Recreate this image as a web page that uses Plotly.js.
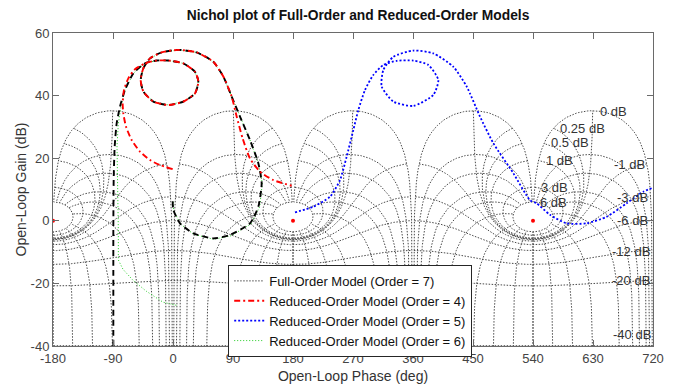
<!DOCTYPE html>
<html>
<head>
<meta charset="utf-8">
<script src="https://cdn.plot.ly/plotly-3.0.1.min.js"></script>
<style>html,body{margin:0;padding:0;background:#fff;}#chart{width:677px;height:387px;}</style>
</head>
<body>
<div id="chart"></div>
<script>
// ---------- Axis ticks ----------
const xTicks = [-180, -90, 0, 90, 180, 270, 360, 450, 540, 630, 720];
const yTicks = [-40, -20, 0, 20, 40, 60];

// ---------- Nichols grid definition (closed-loop values) ----------
const isoPhaseDeg = [1, 5, 10, 20, 30, 50, 90, 120, 150, 180];
const isoGainDb = [6, 3, 1, 0.5, 0.25, 0, -1, -3, -6, -12, -20, -40];
const periodShifts = [-360, 0, 360];
const criticalPhase = [-180, 180, 540];
const criticalGain = [0, 0, 0];

// grid label texts
const posLabels = ['0 dB', '0.25 dB', '0.5 dB', '1 dB', '3 dB', '6 dB'];
const negLabels = ['-1 dB', '-3 dB', '-6 dB', '-12 dB', '-20 dB', '-40 dB'];

// ---------- Series ----------
// Full-order model (black dashed)
const fullPhase = [-89.5, -89.5, -89.5, -89, -87.5, -84.5, -79.5, -72, -59.5, -42, -24.5, -7, 15.5, 33, 38, 33, 15.5, -7, -29.5, -44.5, -48.5, -44.5, -34.5, -17, 8, 35.5, 60.5, 75.5, 88, 100.5, 115.5, 128, 133, 128, 115.5, 85.5, 60.5, 30.5, 10.5, 0.5, -0.5];
const fullGain  = [-40, -12.5, -3, 13, 23.7, 31.1, 36.5, 41.8, 47.1, 50.3, 51.2, 51.2, 50.3, 47.6, 44.5, 40.7, 38.1, 37, 38.1, 41.3, 45, 48.7, 51.9, 53.8, 54.6, 53.8, 50.8, 46.1, 39.7, 33.3, 25.8, 18.4, 12, 4.5, -0.8, -4.5, -5.6, -4, -0.8, 3.5, 6.7];

// Reduced order 4 (red dash-dot)
const r4Phase = [-0.5, -19.5, -34.5, -49.5, -62, -70.5, -74.5, -75.5, -73.5, -67, -57, -42, -24.5, -7, 15.5, 33, 38, 33, 15.5, -7, -29.5, -44.5, -48.5, -44.5, -34.5, -17, 8, 35.5, 60.5, 75.5, 88, 95.5, 104.5, 115.5, 130.5, 150.5, 178];
const r4Gain  = [16.5, 17.8, 19.4, 22.1, 25.8, 30.1, 34.3, 37.5, 41.8, 45.5, 48.4, 50.3, 51.2, 51.2, 50.3, 47.6, 44.5, 40.7, 38.1, 37, 38.1, 41.3, 45, 48.7, 51.9, 53.8, 54.6, 53.8, 50.8, 46.1, 39.7, 33.3, 26.3, 19.9, 15.7, 13, 11.2];

// Reduced order 5 (blue dotted)
const r5Phase = [183, 210.5, 235.5, 250.5, 260.5, 270.5, 278, 288, 300.5, 315.5, 335.5, 360.5, 383, 398, 390.5, 360.5, 330.5, 313, 315.5, 330.5, 360.5, 390.5, 420.5, 440.5, 460.5, 480.5, 510.5, 535.5, 545.5, 565.5, 590.5, 620.5, 650.5, 680.5, 705.5, 720.5];
const r5Gain  = [2.7, 4.5, 7.7, 13, 20.5, 29, 35.4, 41.8, 46.6, 49.8, 51.1, 51.2, 49.8, 45, 40.2, 36.7, 38.1, 42.9, 48.2, 52.4, 54.4, 53.5, 49.2, 42.9, 33.3, 24.8, 15.2, 6.6, 5.6, 1.9, -0.8, -0.8, 1.3, 5.6, 9.3, 10.6];

// Reduced order 6 (green dotted)
const r6Phase = [5, -15, -40, -60, -75, -82, -82, -83, -84, -82, -78, -72, -59.5, -42, -24.5, -7, 15.5, 33, 38, 33, 15.5, -7, -29.5, -44.5, -48.5, -44.5, -34.5, -17, 8, 35.5, 60.5, 75.5, 88, 100.5, 115.5, 128, 134, 130, 117, 87, 61, 31, 11, 1, 0];
const r6Gain  = [-27, -26, -22.5, -19, -15.5, -12.5, -3, 13, 24, 31, 36.5, 41.8, 47.1, 50.3, 51.2, 51.2, 50.3, 47.6, 44.5, 40.7, 38.1, 37, 38.1, 41.3, 45, 48.7, 51.9, 53.8, 54.6, 53.8, 50.8, 46.1, 39.7, 33.3, 25.8, 18.4, 12, 4.5, -1, -4.8, -5.9, -4.3, -1, 3.3, 6.5];

// ---------- Nichols grid computation ----------
function openLoopFromClosedLoop(mag, phDeg) {
  const ph = phDeg * Math.PI / 180;
  const tr = mag * Math.cos(ph), ti = mag * Math.sin(ph);
  const dr = 1 - tr, di = -ti;
  const den = dr * dr + di * di;
  const gr = (tr * dr + ti * di) / den;
  const gi = (ti * dr - tr * di) / den;
  const g = 20 * Math.log10(Math.hypot(gr, gi));
  let p = Math.atan2(gi, gr) * 180 / Math.PI;
  p = ((p % 360) + 360) % 360;
  return [p, g];
}
function range(a, b, s) { const r = []; for (let v = a; v <= b + 1e-9; v += s) r.push(+v.toFixed(6)); return r; }

const magSamplesDb = [].concat(range(-44, -2.5, 0.5), range(-2, 1.99, 0.01), range(2, 6, 0.1));
const phSamples = [].concat(range(1, 9.9, 0.1), range(10, 350, 1), range(350.1, 359, 0.1));

const gridX = [], gridY = [];
periodShifts.forEach(function (sh) {
  // isophase lines
  isoPhaseDeg.forEach(function (p) {
    const line = magSamplesDb.map(function (d) { return openLoopFromClosedLoop(Math.pow(10, d / 20), p); });
    line.forEach(function (pt) { gridX.push(pt[0] + sh); gridY.push(pt[1]); });
    gridX.push(null); gridY.push(null);
    line.forEach(function (pt) { gridX.push(360 - pt[0] + sh); gridY.push(pt[1]); });
    gridX.push(null); gridY.push(null);
  });
  // isogain lines
  isoGainDb.forEach(function (d) {
    const m = Math.pow(10, d / 20);
    phSamples.forEach(function (ph) {
      const pt = openLoopFromClosedLoop(m, ph);
      gridX.push(pt[0] + sh); gridY.push(pt[1]);
    });
    gridX.push(null); gridY.push(null);
  });
});

const labelFont = {family: 'Liberation Sans, Arial, sans-serif', size: 13, color: '#333'};
const posLabelPos = [[637.5, 34.9], [577.5, 29.4], [564, 24.9], [556.5, 19.2], [549, 10.6], [547.5, 6.0]];
const negLabelPos = [[711.5, 18.1], [715.5, 7.6], [715.5, 0], [718.5, -9.8], [718.5, -19.2], [719.5, -36.4]];
const annotations = [];
posLabels.forEach(function (t, i) {
  annotations.push({x: posLabelPos[i][0], y: posLabelPos[i][1], xref: 'x', yref: 'y', text: t, showarrow: false, xanchor: 'left', yanchor: 'middle', font: labelFont});
});
negLabels.forEach(function (t, i) {
  annotations.push({x: negLabelPos[i][0], y: negLabelPos[i][1], xref: 'x', yref: 'y', text: t, showarrow: false, xanchor: 'right', yanchor: 'middle', font: labelFont});
});

const traces = [
  {x: gridX, y: gridY, type: 'scatter', mode: 'lines', name: 'Full-Order Model (Order = 7)', legendrank: 1,
   line: {color: '#4a4a4a', width: 1, dash: '1.5px,1.5px'}, hoverinfo: 'skip', connectgaps: false},
  {x: criticalPhase, y: criticalGain, type: 'scatter', mode: 'markers', showlegend: false,
   marker: {color: '#ff0000', size: 4}},
  {x: r6Phase, y: r6Gain, type: 'scatter', mode: 'lines', name: 'Reduced-Order Model (Order = 6)', legendrank: 4,
   line: {color: '#22cc22', width: 1, dash: '1px,2px'}},
  {x: fullPhase, y: fullGain, type: 'scatter', mode: 'lines', name: 'Full-Order', showlegend: false,
   line: {color: '#000000', width: 1.9, dash: '6px,4px', shape: 'spline', smoothing: 0.6}},
  {x: r4Phase, y: r4Gain, type: 'scatter', mode: 'lines', name: 'Reduced-Order Model (Order = 4)', legendrank: 2,
   line: {color: '#ff0000', width: 1.9, dash: '6px,3px,2px,3px', shape: 'spline', smoothing: 0.6}},
  {x: r5Phase, y: r5Gain, type: 'scatter', mode: 'lines', name: 'Reduced-Order Model (Order = 5)', legendrank: 3,
   line: {color: '#0000ff', width: 1.8, dash: '2px,2px', shape: 'spline', smoothing: 0.6}}
];

const axisCommon = {
  showgrid: false, zeroline: false, showline: true, mirror: 'ticks', linecolor: '#6a6a6a', linewidth: 1,
  ticks: 'inside', ticklen: 6, tickcolor: '#6a6a6a', tickwidth: 1,
  tickfont: {family: 'Liberation Sans, Arial, sans-serif', size: 13, color: '#444'}
};

const layout = {
  width: 677, height: 387,
  margin: {l: 53, r: 24, t: 33, b: 41, pad: 0},
  paper_bgcolor: '#ffffff', plot_bgcolor: '#ffffff',
  title: {text: '<b>Nichol plot of Full-Order and Reduced-Order Models</b>', xref: 'container', x: 358 / 677, xanchor: 'center',
          yref: 'container', y: 1 - 15 / 387, yanchor: 'middle',
          font: {family: 'Liberation Sans, Arial, sans-serif', size: 13.8, color: '#111'}},
  xaxis: Object.assign({}, axisCommon, {range: [-180, 720], tickvals: xTicks, ticktext: xTicks.map(String),
          title: {text: 'Open-Loop Phase (deg)', font: {family: 'Liberation Sans, Arial, sans-serif', size: 14, color: '#333'}, standoff: 6}}),
  yaxis: Object.assign({}, axisCommon, {range: [-40, 60], tickvals: yTicks, ticktext: yTicks.map(String),
          title: {text: 'Open-Loop Gain (dB)', font: {family: 'Liberation Sans, Arial, sans-serif', size: 14, color: '#333'}, standoff: 0}}),
  showlegend: true,
  legend: {x: 0.292, y: 0.259, xanchor: 'left', yanchor: 'top', xref: 'paper', yref: 'paper',
           bgcolor: '#ffffff', bordercolor: '#262626', borderwidth: 1, tracegroupgap: 0,
           font: {family: 'Liberation Sans, Arial, sans-serif', size: 13, color: '#111'}, itemwidth: 30},
  annotations: annotations
};

Plotly.newPlot('chart', traces, layout, {displayModeBar: false, staticPlot: true});
</script>
</body>
</html>
